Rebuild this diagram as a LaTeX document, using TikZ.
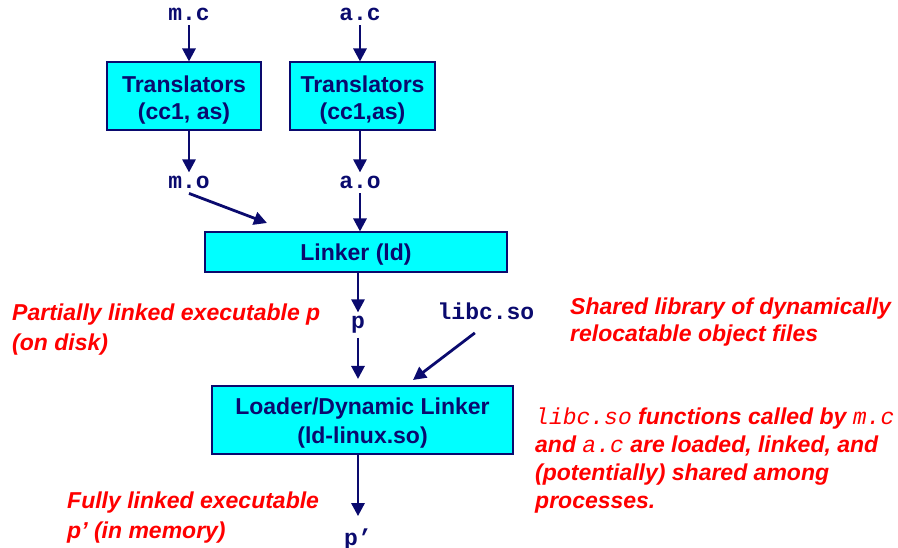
\documentclass[tikz,border=0pt]{standalone}
\usepackage{fontspec}
\setmainfont{Liberation Sans}
\setmonofont{Liberation Mono}
\usetikzlibrary{arrows.meta}

\definecolor{navy}{RGB}{10,10,110}
\definecolor{boxcyan}{RGB}{0,255,255}
\definecolor{notered}{RGB}{255,0,0}

\newcommand\boxfont{\fontsize{23bp}{27bp}\selectfont\bfseries}
\newcommand\filefont{\fontsize{23bp}{27bp}\selectfont\ttfamily\bfseries}
\newcommand\notefont{\fontsize{23bp}{27bp}\selectfont\bfseries\itshape}
\newcommand\notefontwide{\fontsize{23bp}{30bp}\selectfont\bfseries\itshape}
\newcommand\notefontmid{\fontsize{23bp}{28bp}\selectfont\bfseries\itshape}
\newcommand\redtt[1]{{\ttfamily\mdseries\itshape #1}}
\newcommand\boxtop[1]{\rule{0pt}{#1}}

\tikzset{
  boxnode/.style={draw=navy, fill=boxcyan, line width=2bp, text=navy, font=\boxfont, align=center, inner sep=0pt},
  filelabel/.style={text=navy, font=\filefont, anchor=base, inner sep=4bp},
  note/.style={text=notered, font=\notefont, align=left, anchor=north west, inner sep=0pt},
  flow/.style={draw=navy, line width=2.8bp, -{Triangle[length=13bp,width=13bp]}}
}

\begin{document}
\begin{tikzpicture}[x=1bp, y=-1bp]
  \useasboundingbox (0,0) rectangle (898,548);

  % sources and objects
  \node[filelabel] (mc) at (189, 21) {m.c};
  \node[filelabel] (ac) at (360, 21) {a.c};
  \node[boxnode, minimum width=154bp, minimum height=68bp] (trans1) at (184, 96.5) {\boxtop{22.8bp}Translators\\(cc1, as)};
  \node[boxnode, minimum width=145bp, minimum height=68bp] (trans2) at (362.5, 96.5) {\boxtop{22.8bp}Translators\\(cc1,as)};
  \node[filelabel] (mo) at (189, 189) {m.o};
  \node[filelabel] (ao) at (360, 189) {a.o};

  % linking and loading
  \node[boxnode, minimum width=302bp, minimum height=40bp] (linker) at (356, 252.5) {\boxtop{21bp}Linker (ld)};
  \node[filelabel] (p) at (358, 329) {p};
  \node[filelabel] (libc) at (486, 320) {libc.so};
  \node[boxnode, minimum width=301bp, minimum height=68bp] (loader) at (362.5, 420) {\boxtop{22.8bp}Loader/Dynamic Linker\\[2bp](ld-linux.so)};
  \node[filelabel] (pexe) at (358, 545) {p’};
  \coordinate (motip) at (267, 223);
  \coordinate (libctip) at (413, 380);

  \draw[flow] (mc) -- (mc |- trans1.north);
  \draw[flow] (ac) -- (ac |- trans2.north);
  \draw[flow] (mo |- trans1.south) -- (mo.north);
  \draw[flow] (ao |- trans2.south) -- (ao.north);
  \draw[flow] (mo.south) -- (motip);
  \draw[flow] (ao.south) -- (ao |- linker.north);
  \draw[flow] (p |- linker.south) -- (p.north);
  \draw[flow, shorten >=6bp] (p.south) -- (p |- loader.north);
  \draw[flow, shorten <=14bp] (libc.south) -- (libctip);
  \draw[flow, shorten >=8bp] (pexe |- loader.south) -- (pexe.north);

  % red notes
  \node[note, font=\notefontwide] (partial) at (12, 303.3) {Partially linked executable p\\(on disk)};
  \node[note] (shared) at (570, 297.3) {Shared library of dynamically\\relocatable object files};
  \node[note, font=\notefontmid] (funcs) at (535, 407.3) {\redtt{libc.so} functions called by \redtt{m.c}\\and \redtt{a.c} are loaded, linked, and\\(potentially) shared among\\processes.};
  \node[note, font=\notefontwide] (full) at (67, 491.3) {Fully linked executable\\p’ (in memory)};
\end{tikzpicture}
\end{document}
